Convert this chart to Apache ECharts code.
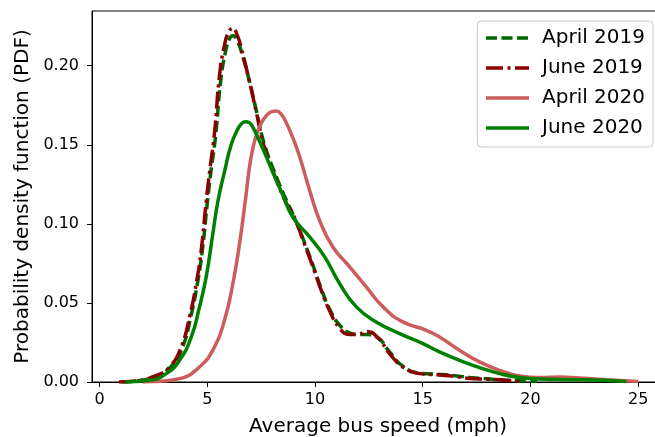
<!DOCTYPE html>
<html>
<head>
<meta charset="utf-8">
<script src="https://cdn.jsdelivr.net/npm/echarts@6/dist/echarts.min.js"></script>
<style>
  html, body { margin: 0; padding: 0; background: #fff; }
  #chart { width: 655px; height: 437px; }
</style>
</head>
<body>
<div id="chart"></div>
<script>
// KDE curves: speed (mph) and density per series
const apr19X = [1.0, 1.6, 2.5, 3.3, 3.85, 4.23, 4.54, 4.77, 5.0, 5.16, 5.39, 5.62, 5.85, 6.05, 6.2, 6.4, 6.58, 6.96, 7.27, 7.66, 8.2, 8.67, 8.98, 9.52, 9.98, 10.29, 10.68, 11.14, 11.6, 12.0, 12.38, 12.92, 13.46, 14.08, 14.86, 15.8, 16.5, 17.2, 18.0, 18.7, 19.5, 20.3]
const apr19Y = [0, 0.0005, 0.0032, 0.0095, 0.022, 0.041, 0.062, 0.083, 0.113, 0.132, 0.156, 0.19, 0.209, 0.2175, 0.219, 0.2155, 0.209, 0.19, 0.172, 0.15, 0.13, 0.115, 0.106, 0.088, 0.071, 0.059, 0.046, 0.036, 0.031, 0.03, 0.03, 0.028, 0.019, 0.01, 0.0055, 0.0048, 0.004, 0.0028, 0.002, 0.0012, 0.0008, 0.0004]

const jun19X = [0.9, 1.55, 2.47, 3.25, 3.79, 4.18, 4.49, 4.72, 4.95, 5.11, 5.34, 5.57, 5.8, 6.0, 6.19, 6.4, 6.58, 6.96, 7.27, 7.66, 8.2, 8.67, 8.98, 9.52, 9.98, 10.29, 10.68, 11.14, 11.6, 12.0, 12.38, 12.92, 13.46, 14.08, 14.86, 15.8, 16.5, 17.2, 18.0, 18.7, 19.5]
const jun19Y = [0, 0.0005, 0.0032, 0.0095, 0.0222, 0.0411, 0.0623, 0.0834, 0.114, 0.133, 0.158, 0.194, 0.213, 0.2215, 0.2237, 0.219, 0.211, 0.19, 0.171, 0.148, 0.128, 0.113, 0.106, 0.087, 0.07, 0.058, 0.045, 0.034, 0.03, 0.03, 0.032, 0.028, 0.018, 0.0095, 0.0053, 0.0045, 0.0035, 0.0022, 0.0018, 0.0012, 0.0004]

const apr20X = [2.0, 2.63, 3.71, 4.64, 5.34, 5.8, 6.19, 6.5, 6.77, 6.96, 7.12, 7.3, 7.5, 7.75, 8.0, 8.2, 8.45, 8.7, 9.0, 9.29, 9.75, 10.21, 10.83, 11.61, 12.38, 13.16, 14.08, 15.17, 15.78, 16.71, 17.64, 18.57, 19.5, 20.43, 21.35, 22.28, 23.5, 25.0]
const apr20Y = [0, 0.0003, 0.0021, 0.0095, 0.0222, 0.039, 0.0623, 0.0876, 0.115, 0.136, 0.148, 0.157, 0.1635, 0.1685, 0.171, 0.1713, 0.169, 0.163, 0.1535, 0.1424, 0.1213, 0.1023, 0.0854, 0.0728, 0.0601, 0.0475, 0.038, 0.0327, 0.0285, 0.0201, 0.0127, 0.0074, 0.0038, 0.0028, 0.0032, 0.0025, 0.0015, 0.0003]

const jun20X = [1.2, 2.32, 3.1, 3.71, 4.26, 4.64, 4.95, 5.26, 5.49, 5.8, 6.11, 6.42, 6.6, 6.78, 6.95, 7.12, 7.5, 7.97, 8.51, 8.98, 9.75, 10.45, 11.14, 11.92, 12.84, 13.93, 15.01, 15.78, 16.71, 17.64, 18.57, 19.5, 20.43, 21.8, 23.4, 24.45]
const jun20Y = [0, 0.0011, 0.0053, 0.0137, 0.0285, 0.0475, 0.0665, 0.0939, 0.114, 0.133, 0.15, 0.16, 0.1635, 0.1646, 0.164, 0.161, 0.15, 0.135, 0.118, 0.104, 0.0918, 0.0791, 0.0623, 0.0475, 0.038, 0.0306, 0.0243, 0.019, 0.0137, 0.0091, 0.0053, 0.0028, 0.0019, 0.0015, 0.0011, 0.0003]

const seriesNames = ['April 2019', 'June 2019', 'April 2020', 'June 2020']
const xTicks = [0, 5, 10, 15, 20, 25]
const yTicks = [0, 0.05, 0.1, 0.15, 0.2]

const zip = (xs, ys) => xs.map((x, i) => [x, ys[i]])

const font = 'DejaVu Sans'
const chart = echarts.init(document.getElementById('chart'), null, { renderer: 'canvas' })

const makeLine = (name, xs, ys, color, type) => ({
  name: name,
  type: 'line',
  data: zip(xs, ys),
  symbol: 'none',
  showSymbol: false,
  smooth: 0.5,
  lineStyle: { color: color, width: 3.5, type: type },
  itemStyle: { color: color }
})

const option = {
  animation: false,
  backgroundColor: '#fff',
  textStyle: { fontFamily: font },
  grid: {
    left: 92,
    right: -9,
    top: 11,
    bottom: 55,
    show: true,
    borderColor: '#000',
    borderWidth: 1,
    outerBoundsMode: 'none'
  },
  legend: {
    data: seriesNames,
    orient: 'vertical',
    right: 2,
    top: 21,
    itemWidth: 43,
    itemHeight: 20,
    itemGap: 10,
    padding: [7, 8, 9, 7],
    borderColor: '#ccc',
    borderWidth: 1,
    borderRadius: 4,
    backgroundColor: 'rgba(255,255,255,0.8)',
    itemStyle: { opacity: 0 },
    lineStyle: { width: 3.5 },
    textStyle: { fontFamily: font, fontSize: 20, color: '#000', padding: [0, 0, 0, 8] }
  },
  xAxis: {
    type: 'value',
    min: -0.35,
    max: 26.2,
    name: 'Average bus speed (mph)',
    nameLocation: 'middle',
    nameGap: 35,
    nameTextStyle: { fontFamily: font, fontSize: 20, color: '#000' },
    axisLine: { show: true, onZero: false, lineStyle: { color: '#000', width: 1 } },
    axisTick: { show: true, length: 5, customValues: xTicks, lineStyle: { color: '#000' } },
    axisLabel: { customValues: xTicks, fontFamily: font, fontSize: 16, color: '#000', margin: 10 },
    splitLine: { show: false }
  },
  yAxis: {
    type: 'value',
    min: 0,
    max: 0.2346,
    name: 'Probability density function (PDF)',
    nameLocation: 'middle',
    nameGap: 55,
    nameTextStyle: { fontFamily: font, fontSize: 20, color: '#000' },
    axisLine: { show: true, onZero: false, lineStyle: { color: '#000', width: 1 } },
    axisTick: { show: true, length: 5, customValues: yTicks, lineStyle: { color: '#000' } },
    axisLabel: {
      customValues: yTicks,
      fontFamily: font,
      fontSize: 16,
      color: '#000',
      margin: 13,
      formatter: (v) => v.toFixed(2)
    },
    splitLine: { show: false }
  },
  series: [
    makeLine('April 2019', apr19X, apr19Y, '#006400', [11, 4.5]),
    makeLine('June 2019', jun19X, jun19Y, '#8b0000', [17, 4.5, 3, 4.5]),
    makeLine('April 2020', apr20X, apr20Y, '#cd5c5c', 'solid'),
    makeLine('June 2020', jun20X, jun20Y, '#008000', 'solid')
  ]
}

chart.setOption(option)
</script>
</body>
</html>
